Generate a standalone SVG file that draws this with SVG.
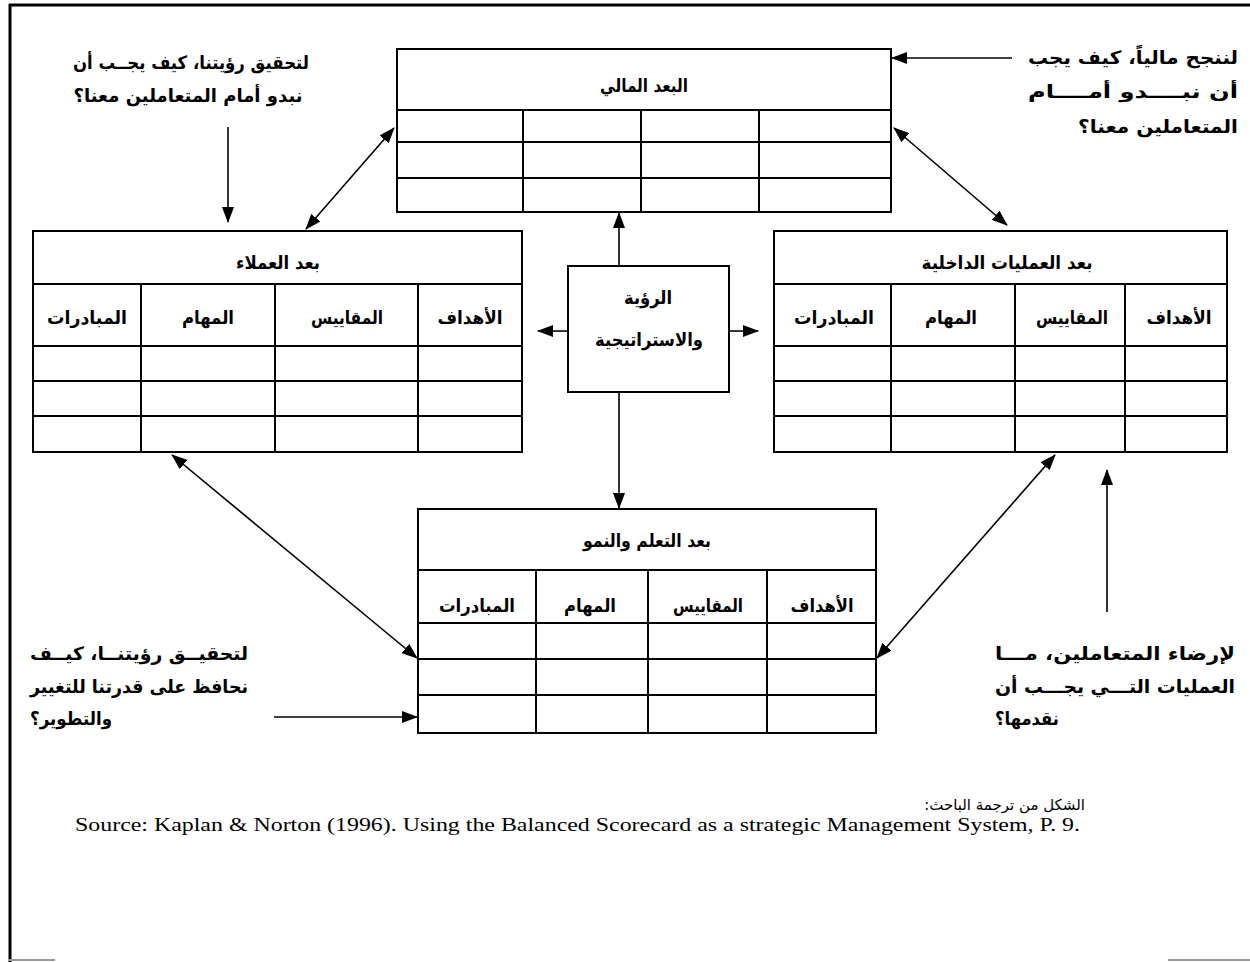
<svg xmlns="http://www.w3.org/2000/svg" width="1250" height="962" viewBox="0 0 1250 962">
<style>
.t{fill:none;stroke:#000;stroke-width:2}
.c{stroke:#000;stroke-width:1.6;fill:none}
.ar{font-family:'DejaVu Sans',sans-serif;font-weight:bold;font-size:18px;fill:#000;direction:rtl;unicode-bidi:embed;text-anchor:middle}
.q{font-family:'DejaVu Sans',sans-serif;font-weight:bold;font-size:18.5px;fill:#000;direction:rtl;unicode-bidi:embed;text-anchor:middle}
.ql{font-family:'DejaVu Sans',sans-serif;font-weight:bold;font-size:18.5px;fill:#000;direction:rtl;unicode-bidi:embed;text-anchor:end}
</style>
<defs>
<marker id="ah" markerUnits="userSpaceOnUse" markerWidth="16" markerHeight="12" refX="15" refY="6" orient="auto-start-reverse">
<path d="M0,0 L16,6 L0,12 z" fill="#000"/>
</marker>
</defs>
<rect width="1250" height="962" fill="#fff"/>
<g id="frame">
<line x1="9" y1="5" x2="1250" y2="5" stroke="#000" stroke-width="3"/>
<line x1="10" y1="4" x2="10" y2="962" stroke="#000" stroke-width="3"/>
<line x1="8" y1="960" x2="55" y2="960" stroke="#999" stroke-width="2"/>
<line x1="1168" y1="960" x2="1250" y2="960" stroke="#999" stroke-width="2"/>
</g>
<g id="financial">
<rect class="t" x="397" y="49" width="494" height="163"/>
<path class="t" d="M397,110H891M397,142H891M397,178H891M523,110V212M641,110V212M759,110V212"/>
<text class="ar" x="644" y="92" textLength="88" lengthAdjust="spacingAndGlyphs">البعد المالي</text>
</g>
<g id="customers">
<rect class="t" x="33" y="231" width="489" height="221"/>
<path class="t" d="M33,284H522M33,346H522M33,381H522M33,416H522M141,284V452M275,284V452M418,284V452"/>
<text class="ar" x="278" y="269" textLength="84" lengthAdjust="spacingAndGlyphs">بعد العملاء</text>
<text class="ar" x="87" y="324" textLength="80" lengthAdjust="spacingAndGlyphs">المبادرات</text>
<text class="ar" x="208" y="324" textLength="52" lengthAdjust="spacingAndGlyphs">المهام</text>
<text class="ar" x="347" y="324" textLength="72" lengthAdjust="spacingAndGlyphs">المقاييس</text>
<text class="ar" x="470" y="324" textLength="65" lengthAdjust="spacingAndGlyphs">الأهداف</text>
</g>
<g id="internal">
<rect class="t" x="774" y="231" width="453" height="221"/>
<path class="t" d="M774,284H1227M774,346H1227M774,381H1227M774,416H1227M891,284V452M1015,284V452M1125,284V452"/>
<text class="ar" x="1007" y="269" textLength="171" lengthAdjust="spacingAndGlyphs">بعد العمليات الداخلية</text>
<text class="ar" x="834" y="324" textLength="80" lengthAdjust="spacingAndGlyphs">المبادرات</text>
<text class="ar" x="951" y="324" textLength="52" lengthAdjust="spacingAndGlyphs">المهام</text>
<text class="ar" x="1072" y="324" textLength="72" lengthAdjust="spacingAndGlyphs">المقاييس</text>
<text class="ar" x="1179" y="324" textLength="65" lengthAdjust="spacingAndGlyphs">الأهداف</text>
</g>
<g id="learning">
<rect class="t" x="418" y="509" width="458" height="224"/>
<path class="t" d="M418,570H876M418,623H876M418,659H876M418,695H876M536,570V733M648,570V733M767,570V733"/>
<text class="ar" x="647" y="547" textLength="128" lengthAdjust="spacingAndGlyphs">بعد التعلم والنمو</text>
<text class="ar" x="477" y="612" textLength="76" lengthAdjust="spacingAndGlyphs">المبادرات</text>
<text class="ar" x="590" y="612" textLength="52" lengthAdjust="spacingAndGlyphs">المهام</text>
<text class="ar" x="708" y="612" textLength="70" lengthAdjust="spacingAndGlyphs">المقاييس</text>
<text class="ar" x="822" y="612" textLength="63" lengthAdjust="spacingAndGlyphs">الأهداف</text>
</g>
<g id="vision">
<rect class="t" x="568" y="266" width="161" height="126"/>
<text class="ar" x="648" y="304" textLength="48" lengthAdjust="spacingAndGlyphs">الرؤية</text>
<text class="ar" x="649" y="346" textLength="108" lengthAdjust="spacingAndGlyphs">والاستراتيجية</text>
</g>
<g id="q-financial">
<text class="q" x="1133" y="64" textLength="210" lengthAdjust="spacingAndGlyphs">لننجح مالياً، كيف يجب</text>
<text class="q" x="1133" y="98" textLength="210" lengthAdjust="spacingAndGlyphs">أن نبــــدو أمــــام</text>
<text class="q" x="1158" y="133" textLength="160" lengthAdjust="spacingAndGlyphs">المتعاملين معنا؟</text>
</g>
<g id="q-customers">
<text class="q" x="191" y="69" textLength="236" lengthAdjust="spacingAndGlyphs">لتحقيق رؤيتنا، كيف يجــب أن</text>
<text class="q" x="188" y="102" textLength="229" lengthAdjust="spacingAndGlyphs">نبدو أمام المتعاملين معنا؟</text>
</g>
<g id="q-learning">
<text class="q" x="139" y="660" textLength="218" lengthAdjust="spacingAndGlyphs">لتحقيــق رؤيتنــا، كيــف</text>
<text class="q" x="139" y="693" textLength="218" lengthAdjust="spacingAndGlyphs">نحافظ على قدرتنا للتغيير</text>
<text class="ql" x="30" y="725" textLength="82" lengthAdjust="spacingAndGlyphs">والتطوير؟</text>
</g>
<g id="q-internal">
<text class="q" x="1115" y="660" textLength="240" lengthAdjust="spacingAndGlyphs">لإرضاء المتعاملين، مـــا</text>
<text class="q" x="1115" y="693" textLength="240" lengthAdjust="spacingAndGlyphs">العمليات التـــي يجـــب أن</text>
<text class="ql" x="995" y="725" textLength="64" lengthAdjust="spacingAndGlyphs">نقدمها؟</text>
</g>
<g id="connectors">
<line class="c" x1="619" y1="266" x2="619" y2="213" marker-end="url(#ah)"/>
<line class="c" x1="619" y1="392" x2="619" y2="508" marker-end="url(#ah)"/>
<line class="c" x1="568" y1="331" x2="538" y2="331" marker-end="url(#ah)"/>
<line class="c" x1="729" y1="331" x2="758" y2="331" marker-end="url(#ah)"/>
<line class="c" x1="306" y1="229" x2="394" y2="128" marker-start="url(#ah)" marker-end="url(#ah)"/>
<line class="c" x1="894" y1="128" x2="1007" y2="225" marker-start="url(#ah)" marker-end="url(#ah)"/>
<line class="c" x1="172" y1="455" x2="417" y2="658" marker-start="url(#ah)" marker-end="url(#ah)"/>
<line class="c" x1="1055" y1="455" x2="877" y2="658" marker-start="url(#ah)" marker-end="url(#ah)"/>
<line class="c" x1="228" y1="127" x2="228" y2="222" marker-end="url(#ah)"/>
<line class="c" x1="1012" y1="58" x2="892" y2="58" marker-end="url(#ah)"/>
<line class="c" x1="1107" y1="612" x2="1107" y2="470" marker-end="url(#ah)"/>
<line class="c" x1="274" y1="717" x2="417" y2="717" marker-end="url(#ah)"/>
</g>
<g id="source">
<text x="1085" y="810" font-family="'DejaVu Sans',sans-serif" font-size="15" direction="rtl" unicode-bidi="embed" text-anchor="start">الشكل من ترجمة الباحث:</text>
<text x="75" y="831" font-family="'Liberation Serif',serif" font-size="19.5" textLength="1005" lengthAdjust="spacingAndGlyphs">Source: Kaplan &amp; Norton (1996). Using the Balanced Scorecard as a strategic Management System, P. 9.</text>
</g>
</svg>
